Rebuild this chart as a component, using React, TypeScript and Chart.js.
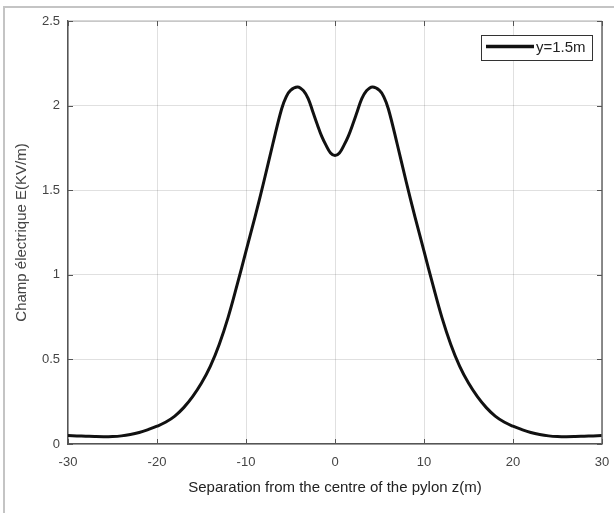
import React, { useEffect, useRef } from "react";
import { Chart, registerables } from "chart.js";

Chart.register(...registerables);

const separation = [
  -30, -29, -28, -27, -26, -25, -24, -23, -22, -21, -20, -19, -18, -17, -16, -15,
  -14, -13, -12, -11, -10, -9, -8, -7, -6, -5.5, -5, -4.2, -3.5, -3, -2.5, -2, -1.5,
  -1, -0.5, 0, 0.5, 1, 1.5, 2, 2.5, 3, 3.5, 4.2, 5, 5.5, 6, 7, 8, 9, 10, 11, 12, 13,
  14, 15, 16, 17, 18, 19, 20, 21, 22, 23, 24, 25, 26, 27, 28, 29, 30,
];

const fieldStrength = [
  0.05, 0.048, 0.046, 0.044, 0.043, 0.044, 0.048, 0.056, 0.068, 0.085, 0.105, 0.13,
  0.165, 0.215, 0.28, 0.36, 0.46, 0.59, 0.75, 0.94, 1.14, 1.34, 1.55, 1.77, 1.98,
  2.05, 2.09, 2.11, 2.085, 2.04, 1.965, 1.89, 1.82, 1.765, 1.72, 1.705, 1.72, 1.765,
  1.82, 1.89, 1.965, 2.04, 2.085, 2.11, 2.09, 2.05, 1.98, 1.77, 1.55, 1.34, 1.14,
  0.94, 0.75, 0.59, 0.46, 0.36, 0.28, 0.215, 0.165, 0.13, 0.105, 0.085, 0.068,
  0.056, 0.048, 0.044, 0.043, 0.044, 0.046, 0.048, 0.05,
];

const xTickValues = [-30, -20, -10, 0, 10, 20, 30];
const yTickValues = [0, 0.5, 1, 1.5, 2, 2.5];
const seriesLabel = "y=1.5m";
const xTitle = "Separation from the centre of the pylon z(m)";
const yTitle = "Champ électrique E(KV/m)";

const FONT = "'Liberation Sans', Arial, Helvetica, sans-serif";

const decorPlugin = {
  id: "decor",
  beforeDraw(chart: any) {
    const ctx = chart.ctx;
    ctx.save();
    ctx.strokeStyle = "#c4c4c4";
    ctx.lineWidth = 2;
    ctx.beginPath();
    ctx.moveTo(4, 514);
    ctx.lineTo(4, 7);
    ctx.lineTo(615, 7);
    ctx.stroke();
    ctx.restore();
  },
  afterDraw(chart: any) {
    const ctx = chart.ctx;
    const { left, right, top, bottom } = chart.chartArea;
    const xs = chart.scales.x;
    const ys = chart.scales.y;
    ctx.save();
    ctx.lineWidth = 1.2;
    ctx.strokeStyle = "#b0b0b0";
    ctx.beginPath();
    ctx.moveTo(left, top);
    ctx.lineTo(right, top);
    ctx.stroke();
    ctx.strokeStyle = "#666";
    ctx.lineWidth = 1.5;
    ctx.beginPath();
    ctx.moveTo(right, top);
    ctx.lineTo(right, bottom);
    ctx.stroke();
    // inward tick marks
    ctx.strokeStyle = "#555";
    ctx.lineWidth = 1;
    ctx.beginPath();
    xTickValues.forEach((v) => {
      const px = Math.round(xs.getPixelForValue(v)) + 0.5;
      ctx.moveTo(px, bottom);
      ctx.lineTo(px, bottom - 5);
      ctx.moveTo(px, top);
      ctx.lineTo(px, top + 5);
    });
    yTickValues.forEach((v) => {
      const py = Math.round(ys.getPixelForValue(v)) + 0.5;
      ctx.moveTo(left, py);
      ctx.lineTo(left + 5, py);
      ctx.moveTo(right, py);
      ctx.lineTo(right - 5, py);
    });
    ctx.stroke();
    // legend
    const lx = 481, ly = 35, lw = 111, lh = 25;
    ctx.fillStyle = "#fff";
    ctx.fillRect(lx, ly, lw, lh);
    ctx.strokeStyle = "#333";
    ctx.lineWidth = 1;
    ctx.strokeRect(lx + 0.5, ly + 0.5, lw, lh);
    ctx.strokeStyle = "#111";
    ctx.lineWidth = 3.5;
    ctx.beginPath();
    ctx.moveTo(486, 46.5);
    ctx.lineTo(534, 46.5);
    ctx.stroke();
    ctx.fillStyle = "#222";
    ctx.font = `15px ${FONT}`;
    ctx.textBaseline = "middle";
    ctx.textAlign = "left";
    ctx.fillText(seriesLabel, 536, 48);
    ctx.restore();
  },
};

export default function App() {
  const ref = useRef<HTMLCanvasElement | null>(null);
  useEffect(() => {
    if (!ref.current) return;
    const chart = new Chart(ref.current, {
      type: "line",
      data: {
        datasets: [
          {
            label: seriesLabel,
            data: separation.map((x, i) => ({ x, y: fieldStrength[i] })),
            borderColor: "#111",
            borderWidth: 3,
            pointRadius: 0,
            tension: 0.4,
            fill: false,
          },
        ],
      },
      options: {
        responsive: false,
        animation: false,
        layout: { padding: { top: 21, right: 12, left: 0, bottom: 0 } },
        plugins: { legend: { display: false }, tooltip: { enabled: false } },
        scales: {
          x: {
            type: "linear",
            min: -30,
            max: 30,
            afterBuildTicks: (s: any) => {
              s.ticks = xTickValues.map((v) => ({ value: v }));
            },
            afterFit: (s: any) => {
              s.height = 69;
              s.paddingLeft = 0;
              s.paddingRight = 0;
            },
            ticks: {
              color: "#444",
              font: { family: FONT, size: 13 },
              padding: 11,
              maxRotation: 0,
              callback: (v: any) => String(v),
            },
            grid: { color: "rgba(0,0,0,0.12)", drawTicks: false, lineWidth: 1 },
            border: { color: "#555", width: 1.5 },
            title: {
              display: true,
              text: xTitle,
              color: "#222",
              font: { family: FONT, size: 15 },
              padding: { bottom: 16, top: 0 },
            },
          },
          y: {
            type: "linear",
            min: 0,
            max: 2.5,
            afterBuildTicks: (s: any) => {
              s.ticks = yTickValues.map((v) => ({ value: v }));
            },
            afterFit: (s: any) => {
              s.width = 68;
            },
            ticks: {
              color: "#444",
              font: { family: FONT, size: 13 },
              padding: 8,
              callback: (v: any) => String(v),
            },
            grid: { color: "rgba(0,0,0,0.12)", drawTicks: false, lineWidth: 1 },
            border: { color: "#555", width: 1.5 },
            title: {
              display: true,
              text: yTitle,
              color: "#444",
              font: { family: FONT, size: 15 },
              padding: { top: 13, bottom: 0 },
            },
          },
        },
      },
      plugins: [decorPlugin],
    });
    return () => chart.destroy();
  }, []);
  return (
    <div style={{ position: "fixed", left: 0, top: 0, width: 614, height: 513, background: "#fff" }}>
      <canvas ref={ref} width={614} height={513} style={{ display: "block" }} />
    </div>
  );
}
